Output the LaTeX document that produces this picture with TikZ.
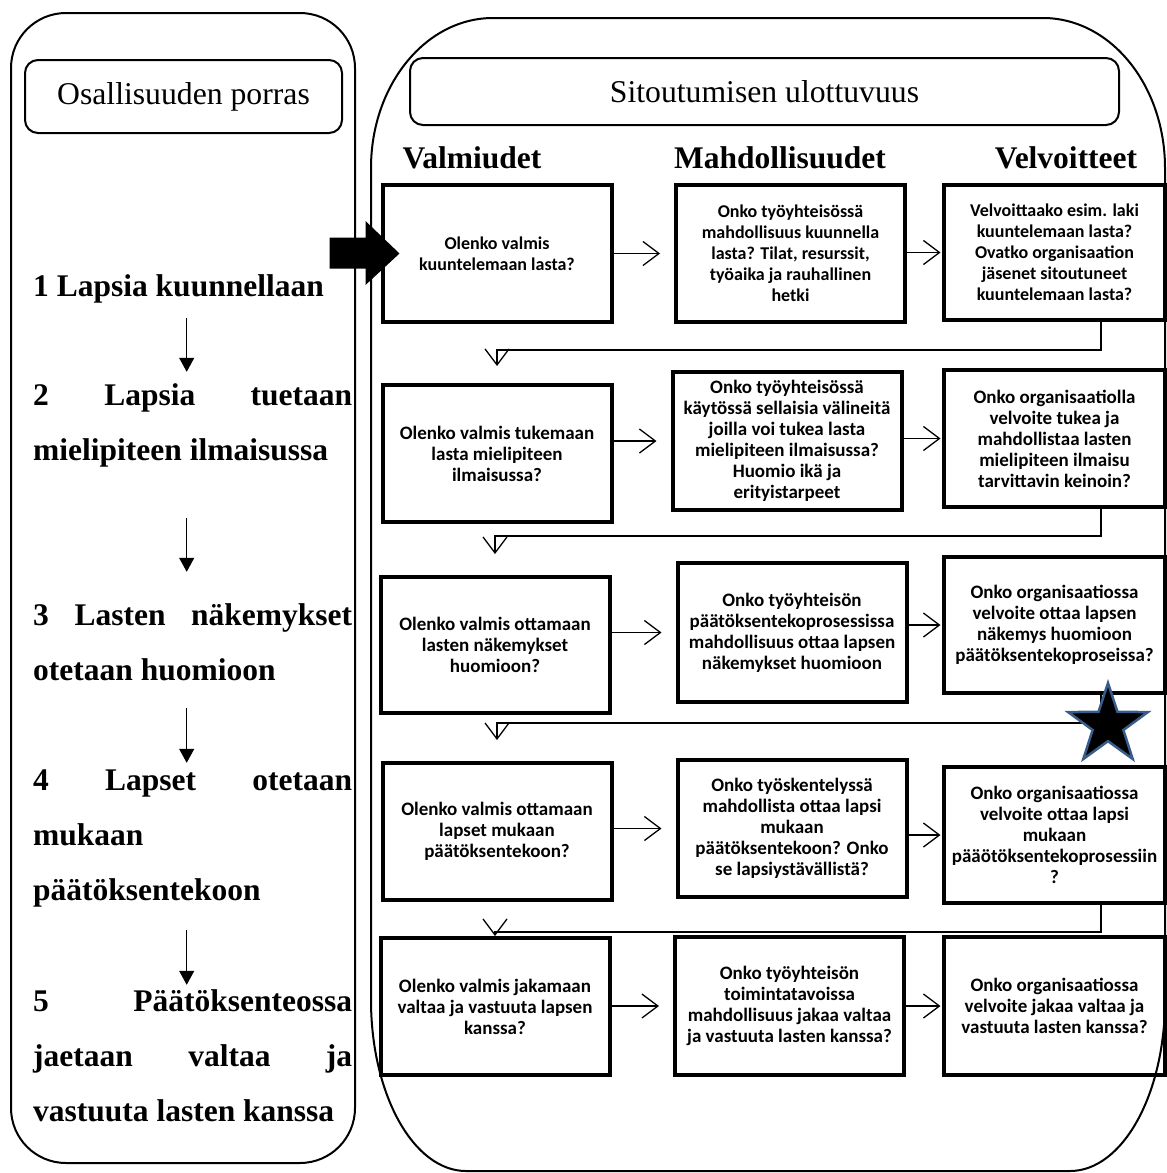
\documentclass[tikz,border=0pt]{standalone}
\usepackage{fontspec}
\setmainfont{Liberation Serif}
\newfontfamily\calib{Carlito}
\usetikzlibrary{arrows.meta,shapes.geometric}
\definecolor{starblue}{RGB}{56,93,138}

\begin{document}
\begin{tikzpicture}[x=1pt,y=-1pt]
%\draw[help lines,step=50] (0,0) grid (1167,1173);
\tikzstyle{q}=[rectangle,draw,line width=4pt,minimum width=229pt,minimum height=137pt,inner sep=0pt,align=center,font=\calib\bfseries\fontsize{19}{21}\selectfont]
\tikzstyle{q1}=[q,font=\calib\bfseries\fontsize{18}{21}\selectfont]
\tikzstyle{hdr}=[rectangle,draw,line width=2pt,rounded corners=13pt,inner sep=0pt,font=\fontsize{31.7}{36}\selectfont]
\tikzstyle{col}=[anchor=base,inner sep=0pt,font=\bfseries\fontsize{31.5}{36}\selectfont]
\tikzstyle{porras}=[anchor=base west,inner sep=0pt,text width=319pt,align=justify,font=\bfseries\fontsize{31.5}{55}\selectfont,execute at begin node={\hyphenpenalty=10000\relax}]
\tikzstyle{alas}=[line width=1.2pt,-{Triangle[length=14pt,width=15pt]}]
\tikzstyle{nuoli}=[line width=1.3pt,-{Straight Barb[length=16pt,width=24pt]}]

\useasboundingbox (0,0) rectangle (1167,1173);

% the two panels
\draw[line width=2pt,rounded corners=55pt] (11,13) rectangle (355,1163);
\draw[line width=2pt] (371,168) -- (371,1000)
  arc[start angle=180,end angle=270,x radius=95pt,y radius=171pt] -- (1070,1171)
  arc[start angle=270,end angle=360,x radius=95pt,y radius=171pt] -- (1165,168)
  arc[start angle=0,end angle=90,x radius=122pt,y radius=150pt] -- (493,18)
  arc[start angle=90,end angle=180,x radius=122pt,y radius=150pt] -- cycle;

\node[hdr,minimum width=317pt,minimum height=73pt] (lh) at (183.5,96.5) {Osallisuuden porras};
\node[hdr,minimum width=709pt,minimum height=67pt] (rh) at (764.5,91.5) {Sitoutumisen ulottuvuus};

% left: steps
\node[porras] (s1) at (33,296) {\strut 1 Lapsia kuunnellaan\strut};
\node[porras] (s2) at (33,405) {\strut 2 Lapsia tuetaan\linebreak mielipiteen ilmaisussa\strut};
\node[porras] (s3) at (33,625) {\strut 3 Lasten näkemykset\linebreak otetaan huomioon\strut};
\node[porras] (s4) at (33,790) {\strut 4 Lapset otetaan\linebreak mukaan\linebreak päätöksentekoon\strut};
\node[porras] (s5) at (33,1011) {\strut 5 Päätöksenteossa\linebreak jaetaan valtaa ja\linebreak vastuuta lasten kanssa\strut};

\draw[alas] ([xshift=-6pt,yshift=-5.5pt]s1.south) -- ([xshift=-6pt,yshift=-5.5pt]s2.north);
\draw[alas] ([xshift=-6pt,yshift=-41.5pt]s2.south) -- ([xshift=-6pt,yshift=14.5pt]s3.north);
\draw[alas] ([xshift=-6pt,yshift=-11.5pt]s3.south) -- ([xshift=-6pt,yshift=-11.5pt]s4.north);
\draw[alas] ([xshift=-6pt,yshift=-13.5pt]s4.south) -- ([xshift=-6pt,yshift=-12.5pt]s5.north);

% right: columns
\node[col] (valm) at (472,168) {Valmiudet};
\node[col] (mahd) at (780,168) {Mahdollisuudet};
\node[col] (velv) at (1066,168) {Velvoitteet};

\node[q1] (val1) at (497,253.5) {Olenko valmis\\kuuntelemaan lasta?};
\node[q1] (mah1) at (790.5,253.5) {Onko työyhteisössä\\mahdollisuus kuunnella\\lasta? Tilat, resurssit,\\työaika ja rauhallinen\\hetki};
\node[q1,minimum width=221pt,minimum height=135pt] (vel1) at (1054.5,252.5) {Velvoittaako esim. laki\\kuuntelemaan lasta?\\Ovatko organisaation\\jäsenet sitoutuneet\\kuuntelemaan lasta?};

\node[q] (val2) at (497,453.5) {Olenko valmis tukemaan\\lasta mielipiteen\\ilmaisussa?};
\node[q,minimum height=138pt] (mah2) at (787,441) {Onko työyhteisössä\\käytössä sellaisia välineitä\\joilla voi tukea lasta\\mielipiteen ilmaisussa?\\Huomio ikä ja\\erityistarpeet};
\node[q,minimum width=221pt] (vel2) at (1054.5,438.5) {Onko organisaatiolla\\velvoite tukea ja\\mahdollistaa lasten\\mielipiteen ilmaisu\\tarvittavin keinoin?};

\node[q,minimum height=136pt] (val3) at (495,645) {Olenko valmis ottamaan\\lasten näkemykset\\huomioon?};
\node[q,minimum height=139pt] (mah3) at (792,632.5) {Onko työyhteisön\\päätöksentekoprosessissa\\mahdollisuus ottaa lapsen\\näkemykset huomioon};
\node[q,minimum width=221pt,minimum height=136pt] (vel3) at (1054.5,625) {Onko organisaatiossa\\velvoite ottaa lapsen\\näkemys huomioon\\päätöksentekoproseissa?};

\node[q] (val4) at (497,831.5) {Olenko valmis ottamaan\\lapset mukaan\\päätöksentekoon?};
\node[q] (mah4) at (792,828.5) {Onko työskentelyssä\\mahdollista ottaa lapsi\\mukaan\\päätöksentekoon? Onko\\se lapsiystävällistä?};
\node[q,minimum width=221pt,minimum height=136pt] (vel4) at (1054.5,835) {Onko organisaatiossa\\velvoite ottaa lapsi\\mukaan\\pääötöksentekoprosessiin\\?};

\node[q] (val5) at (495,1006.5) {Olenko valmis jakamaan\\valtaa ja vastuuta lapsen\\kanssa?};
\node[q,minimum height=138pt] (mah5) at (789.5,1006) {Onko työyhteisön\\toimintatavoissa\\mahdollisuus jakaa valtaa\\ja vastuuta lasten kanssa?};
\node[q,minimum width=221pt,minimum height=138pt] (vel5) at (1054.5,1006) {Onko organisaatiossa\\velvoite jakaa valtaa ja\\vastuuta lasten kanssa?};

% arrows along the rows
\foreach \i in {1,...,5}{
  \draw[nuoli,shorten >=14pt] (val\i.east |- mah\i.west) -- (mah\i.west);
  \draw[nuoli,shorten >=1.5pt] (mah\i.east |- vel\i.west) -- (vel\i.west);
}

% from one row to the next
\coordinate (rail) at (1101,0);
\draw[nuoli] (vel1.south -| rail) -- ++(0,28) -| ([yshift=17pt]val2.north);
\draw[nuoli] (vel2.south -| rail) -- ++(0,27) -| ([yshift=21pt]val3.north);
\draw[nuoli] (vel3.south -| rail) -- ++(0,28) -| ([yshift=21pt]val4.north);
\draw[nuoli] (vel4.south -| rail) -- ++(0,27) -| (val5.north);

% big pointer into the first box
\fill ([xshift=19pt]val1.west) -- ++(-34,-32.5) -- ++(0,16.5) -- ++(-36,0) -- ++(0,31) -- ++(36,0) -- ++(0,16.5) -- cycle;

\node[star,star points=5,star point ratio=2.6,minimum size=84pt,inner sep=0pt,fill=black,draw=starblue,line width=2.5pt] (tahti) at (1108,725) {};
\end{tikzpicture}
\end{document}
